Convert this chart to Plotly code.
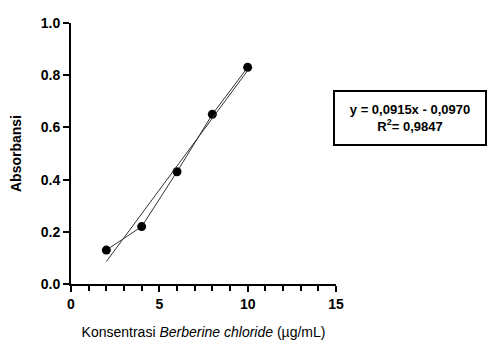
import plotly.graph_objects as go

# Calibration data: concentration (µg/mL) vs absorbance
konsentrasi = [2, 4, 6, 8, 10]
absorbansi = [0.13, 0.22, 0.43, 0.65, 0.83]

# Linear regression result
slope = 0.0915
intercept = -0.0970
r_squared = 0.9847

fit_x = [konsentrasi[0], konsentrasi[-1]]
fit_y = [slope * x + intercept for x in fit_x]

FONT = "Liberation Sans, Arial, sans-serif"

fig = go.Figure()
fig.add_trace(go.Scatter(
    x=konsentrasi, y=absorbansi, mode="lines+markers",
    line=dict(color="#333333", width=1),
    marker=dict(color="black", size=9),
    showlegend=False,
))
fig.add_trace(go.Scatter(
    x=fit_x, y=fit_y, mode="lines",
    line=dict(color="#333333", width=1),
    showlegend=False,
))

fig.add_annotation(
    xref="paper", yref="paper", x=1.28, y=0.636, xanchor="center", yanchor="middle",
    text="<b>y = 0,0915x - 0,0970<br>R<sup>2</sup>= 0,9847</b>",
    showarrow=False, align="center",
    font=dict(family=FONT, size=13, color="black"),
    bordercolor="black", borderwidth=2, borderpad=10, bgcolor="white",
    width=130,
)

axis_common = dict(
    showgrid=False, zeroline=False, showline=True, linecolor="black", linewidth=2,
    ticks="outside", tickcolor="black", tickwidth=2, ticklen=6,
    tickfont=dict(family=FONT, size=14, color="black", weight="bold"),
)

fig.update_xaxes(
    range=[0, 15], tickvals=[0, 5, 10, 15], ticktext=["0", "5", "10", "15"],
    minor=dict(dtick=1, ticks="outside", ticklen=5, tickwidth=1.5, tickcolor="black"),
    title=dict(text="Konsentrasi <i>Berberine chloride</i> (µg/mL)",
               font=dict(family=FONT, size=14, color="black"), standoff=16),
    **axis_common,
)
fig.update_yaxes(
    range=[0, 1.0], tickvals=[0, 0.2, 0.4, 0.6, 0.8, 1.0],
    ticktext=["0.0", "0.2", "0.4", "0.6", "0.8", "1.0"],
    title=dict(text="<b>Absorbansi</b>",
               font=dict(family=FONT, size=14, color="black"), standoff=16),
    **axis_common,
)

fig.update_layout(
    width=489, height=350,
    margin=dict(l=71, r=153, t=23, b=64),
    plot_bgcolor="white", paper_bgcolor="white",
)

fig.write_html("out.html")
